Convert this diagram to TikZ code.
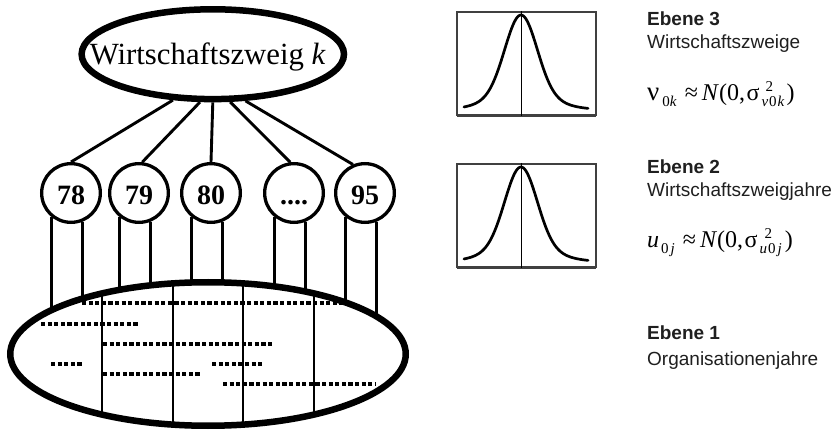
\documentclass[tikz,border=0pt]{standalone}
\usepackage{fontspec}
\setmainfont{Liberation Serif}
\newfontfamily\sansfam{Liberation Sans}
\usetikzlibrary{shapes.geometric,backgrounds}

\tikzset{
  heavy/.style={draw, ellipse, line width=6.5pt, inner sep=0pt},
  yearnode/.style={draw, circle, line width=3.3pt, minimum size=58.7pt, inner sep=0pt,
    font=\fontsize{28}{28}\selectfont\bfseries, text height=24pt, text depth=0pt},
  link/.style={line width=2.9pt},
  dotrow/.style={line width=3.2pt, dash pattern=on 4.2pt off 2.4pt},
  plotbox/.style={draw=black!75, line width=1.6pt, minimum width=139.4pt,
    minimum height=103.4pt, inner sep=0pt, outer sep=0pt},
  boxfloor/.style={draw=black!75, line width=2.8pt},
  axisline/.style={line width=1pt},
  bell/.style={line width=2.7pt, line join=round, line cap=round},
  lvlhead/.style={font=\sansfam\bfseries\fontsize{19}{22}\selectfont, text=black!88,
    anchor=base west, inner sep=0pt},
  lvltext/.style={font=\sansfam\fontsize{19}{22}\selectfont, text=black!88,
    anchor=base west, inner sep=0pt},
  formula/.style={font=\fontsize{24}{28}\selectfont, anchor=base west, inner sep=0pt},
}
\newcommand\subsz{\fontsize{15}{15}\selectfont}
\newcommand\bellcurve[1]{%
  \draw[bell] plot[domain=-57:67, samples=110, smooth]
    ({521+\x}, {#1-95*(0.85*exp(-((\x)*(\x))/512)+0.15*exp(-((\x)*(\x))/2048))});}

\begin{document}
\begin{tikzpicture}[x=1pt, y=-1pt]
  \useasboundingbox (0,0) rectangle (833,430);
  \begin{pgfonlayer}{background}
    \fill[white] (0,0) rectangle (833,430);
  \end{pgfonlayer}

  % level 3: the industry
  \node[heavy, minimum width=262.4pt, minimum height=89.8pt, text height=21.6pt, text depth=0pt]
    (wz) at (212.8,54.2)
    {\makebox[0pt]{\kern-10pt\fontsize{30.8}{30}\selectfont Wirtschaftszweig \textit{k}}};

  % level 2: industry years
  \node[yearnode] (c78)   at (71,193)  {78};
  \node[yearnode] (c79)   at (139,193) {79};
  \node[yearnode] (c80)   at (211,193) {80};
  \node[yearnode] (cdots) at (294,193) {....};
  \node[yearnode] (c95)   at (365,193) {95};

  \draw[link] (wz.229) -- (c78.north);
  \draw[link] (wz.255) -- (c79.84);
  \draw[link] (wz.270) -- (c80.north);
  \draw[link] (wz.290) -- (cdots.97);
  \draw[link] (wz.305) -- (c95.113);

  % level 1: organisation years
  \node[heavy, fill=white, minimum width=395.5pt, minimum height=143.5pt]
    (org) at (208,354) {};

  \begin{pgfonlayer}{background}
    \foreach \c in {c78,c79,c80,cdots,c95} {
      \draw[link] (\c.230) -- (\c.230 |- org.center);
      \draw[link] (\c.292) -- (\c.292 |- org.center);
    }
  \end{pgfonlayer}

  \begin{scope}
    \clip (org.center) ellipse [x radius=197.75pt, y radius=71.75pt];
    \foreach \xx in {102,173,243,314}
      \draw[link] (\xx,270) -- (\xx,440);
    \draw[dotrow] (82,303)  -- (345,303);
    \draw[dotrow] (41,324)  -- (139,324);
    \draw[dotrow] (103,344) -- (274,344);
    \draw[dotrow] (51,364)  -- (82,364);
    \draw[dotrow] (212,364) -- (264,364);
    \draw[dotrow] (103,374) -- (200,374);
    \draw[dotrow] (223,384) -- (376,384);
  \end{scope}

  % distribution plots
  \node[plotbox] (p3) at (526.5,63.5) {};
  \draw[boxfloor] (p3.south west) -- (p3.south east);
  \draw[axisline] (521,11) -- (521,116);
  \bellcurve{110}

  \node[plotbox] (p2) at (526.5,215.5) {};
  \draw[boxfloor] (p2.south west) -- (p2.south east);
  \draw[axisline] (521,163) -- (521,268);
  \bellcurve{262}

  % level descriptions
  \node[lvlhead] (e3) at (647,26) {Ebene 3};
  \node[lvltext] (t3) at (647,49) {Wirtschaftszweige};
  \node[formula] (f3) at (647,101)
    {{\fontsize{27}{28}\selectfont ν}\kern3pt\raisebox{-6pt}{\subsz 0\textit{k}}\kern8pt≈\kern4pt\textit{N}(0,\kern1.5pt σ\kern2pt\rlap{\raisebox{9pt}{\subsz\kern4pt 2}}\raisebox{-6pt}{\subsz\textit{ν}\kern1pt0\kern1pt\textit{k}}\kern2pt)};

  \node[lvlhead] (e2) at (647,174) {Ebene 2};
  \node[lvltext] (t2) at (647,197) {Wirtschaftszweigjahre};
  \node[formula] (f2) at (647,248)
    {\textit{u}\kern2pt\raisebox{-6pt}{\subsz 0\kern2pt\textit{j}}\kern8pt≈\kern4pt\textit{N}(0,\kern1.5pt σ\kern2pt\rlap{\raisebox{9pt}{\subsz\kern5pt 2}}\raisebox{-6pt}{\subsz\textit{u}\kern1pt0\kern2pt\textit{j}}\kern3pt)};

  \node[lvlhead] (e1) at (647,340) {Ebene 1};
  \node[lvltext] (t1) at (647,366) {Organisationenjahre};
\end{tikzpicture}
\end{document}
